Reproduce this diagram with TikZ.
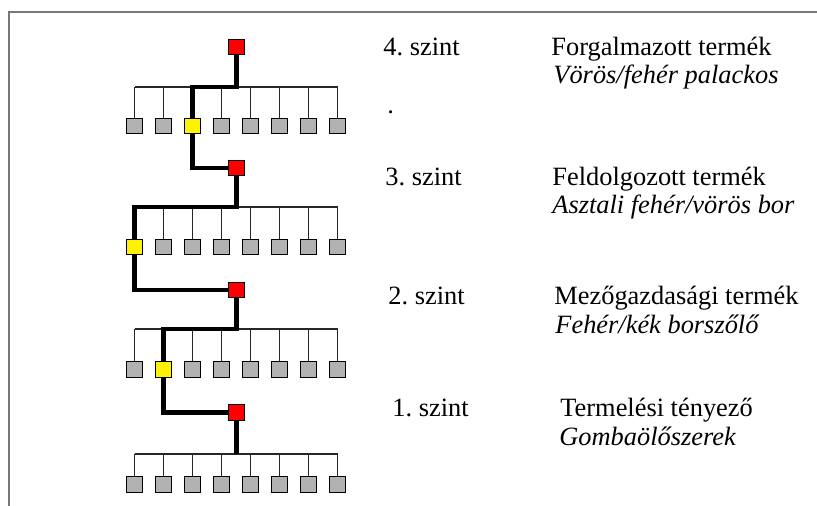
\documentclass[tikz,border=0pt]{standalone}
\usepackage{fontspec}
\setmainfont{Liberation Serif}
\usepackage{tikz}
\frenchspacing
\definecolor{leafgray}{RGB}{178,178,178}
\definecolor{framegray}{RGB}{120,120,120}
\tikzset{
  box/.style={draw=black, line width=0.5pt, minimum size=7.8pt, inner sep=0pt},
  bus/.style={line width=0.55pt, black!85},
  route/.style={line width=2.3pt, black},
  txt/.style={anchor=base west, inner sep=0pt, font=\fontsize{13.2}{16}\selectfont},
  itxt/.style={txt, font=\fontsize{13.2}{16}\selectfont\itshape}
}

\begin{document}
\begin{tikzpicture}[x=0.5pt, y=-0.5pt]
  \useasboundingbox (0,0) rectangle (817,506);
  % frame
  \draw[framegray, line width=0.9pt] (817,12) -- (9,12) -- (9,506);

  % red parents
  \node[box, fill=red] (r4) at (236.2,47) {};
  \node[box, fill=red] (r3) at (236.2,168) {};
  \node[box, fill=red] (r2) at (236.2,290) {};
  \node[box, fill=red] (r1) at (236.2,412.5) {};

  % buses and children (yellow = chosen one)
  \foreach \lev/\yb/\yc/\yl in {4/87/126/2, 3/207/247/0, 2/329/369.5/1, 1/454/484.5/9} {
    \coordinate (b\lev) at (236.2,\yb);
    \foreach \i in {0,...,7} {
      \ifnum\i=\yl \def\fc{yellow}\else\def\fc{leafgray}\fi
      \node[box, fill=\fc] (c\lev-\i) at ({134.7+29*\i},\yc) {};
      \draw[bus] (c\lev-\i |- b\lev) -- (c\lev-\i);
    }
    \draw[bus] (c\lev-0 |- b\lev) -- (c\lev-7 |- b\lev);
  }

  % thick route
  \draw[route] (r4) -- (b4) -| (c4-2);
  \draw[route] (c4-2) |- (r3);
  \draw[route] (r3) -- (b3) -| (c3-0);
  \draw[route] (c3-0) |- (r2);
  \draw[route] (r2) -- (b2) -| (c2-1);
  \draw[route] (c2-1) |- (r1);
  \draw[route] (r1) -- (b1);

  % labels
  \node[txt] (s4) at (383,56) {4. szint};
  \node[txt] (n4) at (551,56) {Forgalmazott termék};
  \node[itxt] (e4) at (553,84) {Vörös/fehér palackos};
  \node[txt] (dot) at (387,114) {.};

  \node[txt] (s3) at (385,186) {3. szint};
  \node[txt] (n3) at (552,186) {Feldolgozott termék};
  \node[itxt] (e3) at (552,214) {Asztali fehér/vörös bor};

  \node[txt] (s2) at (388,305) {2. szint};
  \node[txt] (n2) at (554,305) {Mezőgazdasági termék};
  \node[itxt] (e2) at (555,334) {Fehér/kék borszőlő};

  \node[txt] (s1) at (392,416) {1. szint};
  \node[txt] (n1) at (560,416) {Termelési tényező};
  \node[itxt] (e1) at (559,445) {Gombaölőszerek};
\end{tikzpicture}
\end{document}
